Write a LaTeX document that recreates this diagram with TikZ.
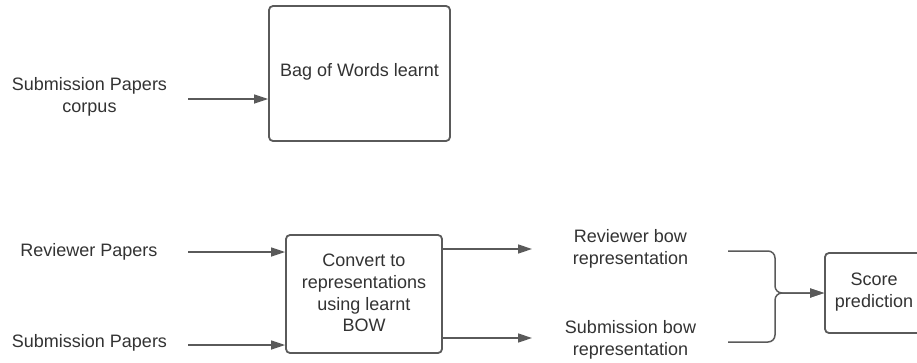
\documentclass[tikz,border=0pt]{standalone}
\usepackage{fontspec}
\setmainfont{Liberation Sans}
\usetikzlibrary{arrows.meta,calc}
\definecolor{ink}{HTML}{333333}
\definecolor{edge}{HTML}{5A5A5A}
\begin{document}
\begin{tikzpicture}[x=1pt,y=-1pt,
  every node/.style={text=ink,font=\fontsize{18}{21.8}\selectfont,inner sep=0pt,align=center},
  procbox/.style={draw=edge,line width=1.8pt,rounded corners=4pt},
  flow/.style={draw=edge,line width=1.5pt,-{Triangle[length=14pt,width=9pt]}},
  mergeline/.style={draw=edge,line width=1.5pt,rounded corners=7pt,-{Triangle[length=14pt,width=9pt]}}]
\clip (0,0) rectangle (917,362);
\fill[white] (0,0) rectangle (917,362);

% learning stage
\node[procbox,minimum width=181pt,minimum height=135pt] (bow) at (359.5,73.5) {};
\node (bowtxt) at (359.5,72) {Bag of Words learnt};
\node (corpus) at (89.5,97) {Submission Papers\\corpus};
\coordinate (corpusout) at (188,99);
\draw[flow] (corpusout) -- (corpusout -| bow.west);

% conversion stage
\node[procbox,minimum width=156pt,minimum height=118pt] (conv) at (364,294) {};
\node (convtxt) at (364,293) {Convert to\\representations\\using learnt\\BOW};
\node (rev) at (89,252) {Reviewer Papers};
\node (sub) at (89.5,343) {Submission Papers};
\coordinate (revout) at (188,252);
\coordinate (subout) at (188,345);
\draw[flow] (revout) -- (revout -| conv.west);
\draw[flow] (subout) -- (subout -| conv.west);

% representations
\node (revbow) at (630.5,249) {Reviewer bow\\representation};
\node (subbow) at (630.5,340) {Submission bow\\representation};
\coordinate (revin) at (532,249);
\coordinate (subin) at (532,338);
\draw[flow] (revin -| conv.east) -- (revin);
\draw[flow] (subin -| conv.east) -- (subin);

% score prediction
\node[procbox,minimum width=96pt,minimum height=80pt] (score) at (873,293) {};
\node (scoretxt) at (874,292) {Score\\prediction};
\coordinate (revtail) at (728,251);
\coordinate (subtail) at (728,342);
\coordinate (merge) at (775,293);
\draw[mergeline] (revtail) -| (merge) -- (score.west);
\draw[mergeline] (subtail) -| (merge) -- (score.west);
\end{tikzpicture}
\end{document}
